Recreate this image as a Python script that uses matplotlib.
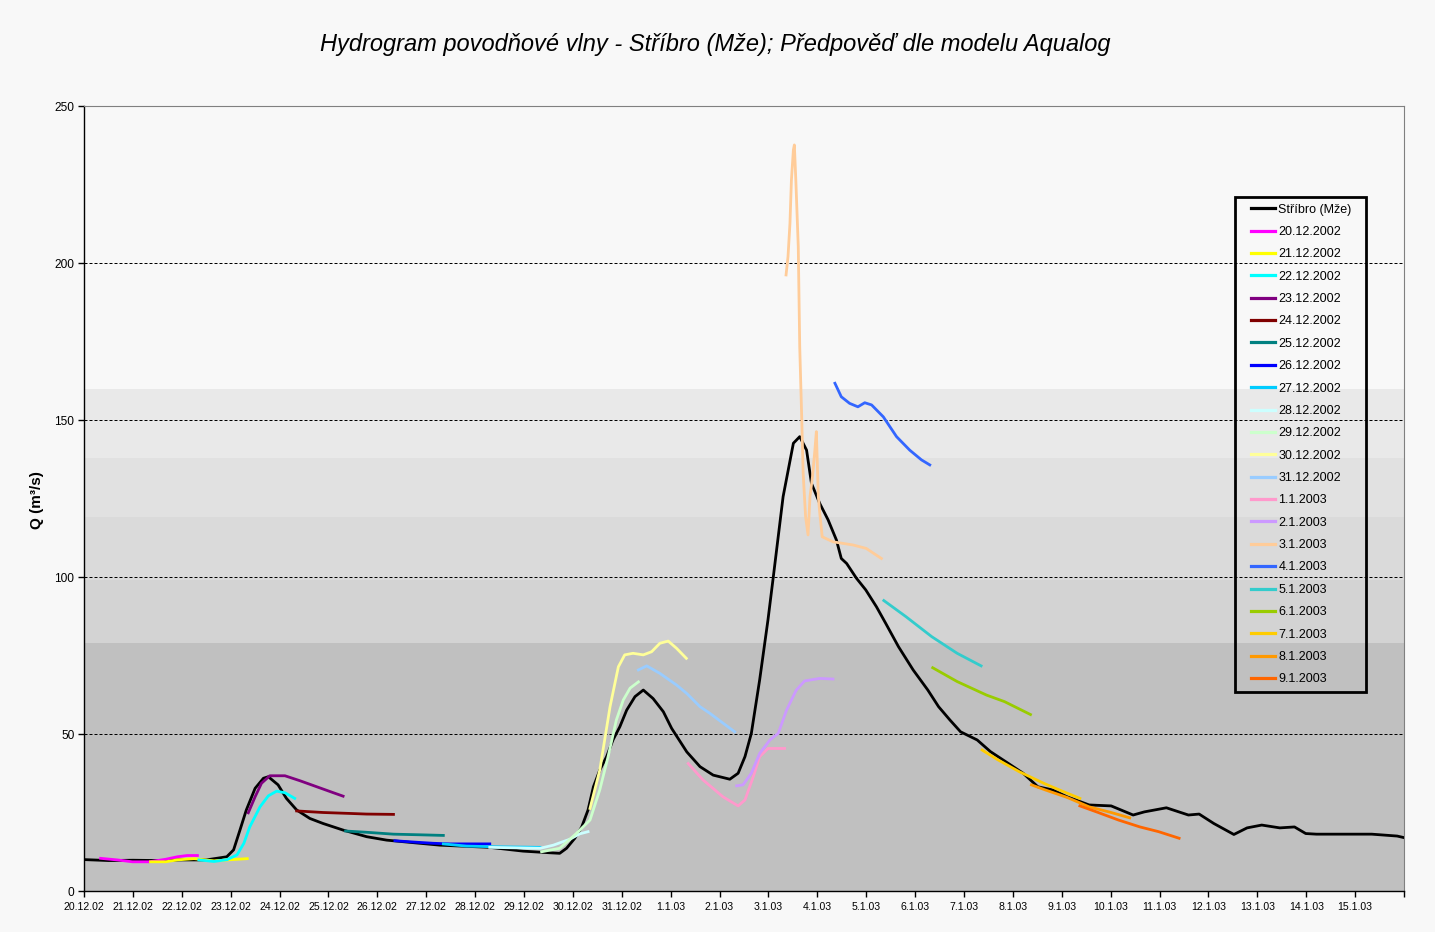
import numpy as np
import matplotlib
matplotlib.use('Agg')
import matplotlib.pyplot as plt
from matplotlib.patches import Rectangle

plt.rcParams['font.family'] = ['Liberation Sans', 'DejaVu Sans']

# ---------------- data ----------------
x_tick_labels = ['20.12.02', '21.12.02', '22.12.02', '23.12.02', '24.12.02', '25.12.02',
                 '26.12.02', '27.12.02', '28.12.02', '29.12.02', '30.12.02', '31.12.02',
                 '1.1.03', '2.1.03', '3.1.03', '4.1.03', '5.1.03', '6.1.03', '7.1.03',
                 '8.1.03', '9.1.03', '10.1.03', '11.1.03', '12.1.03', '13.1.03', '14.1.03',
                 '15.1.03', '']

# flood levels (shaded bands) and their shades
band_levels = [0, 79, 99, 119, 138, 160]
band_colors = ['#C0C0C0', '#D3D3D3', '#DADADA', '#E1E1E1', '#E9E9E9']

# observed discharge (days since 20.12.2002 00:00)
obs_t = [0, 0.5, 1.0, 1.5, 2.0, 2.5, 2.92, 3.06, 3.19, 3.32, 3.50, 3.67, 3.77, 3.97, 4.14,
         4.35, 4.62, 4.89, 5.30, 5.78, 6.19, 6.73, 7.28, 8.30, 8.98, 9.50, 9.73, 9.87, 10.04,
         10.18, 10.31, 10.42, 10.55, 10.69, 10.82, 10.96, 11.10, 11.27, 11.44, 11.64, 11.85,
         12.02, 12.33, 12.60, 12.87, 13.21, 13.38, 13.52, 13.65, 13.82, 13.99, 14.10, 14.30,
         14.51, 14.64, 14.78, 14.88, 15.05, 15.22, 15.39, 15.49, 15.60, 15.80, 15.99, 16.21,
         16.40, 16.66, 16.96, 17.26, 17.48, 17.71, 17.93, 18.27, 18.54, 18.91, 19.21, 19.51,
         19.81, 20.11, 20.56, 21.01, 21.46, 21.69, 22.14, 22.59, 22.81, 23.11, 23.52, 23.79,
         24.09, 24.46, 24.76, 24.99, 25.21, 26.34, 26.86, 27.0]
obs_q = [10, 9.7, 9.8, 9.7, 9.9, 9.9, 10.9, 13.1, 19.4, 25.8, 32.7, 35.9, 36.4, 33.8, 29.5,
         25.8, 23.1, 21.5, 19.4, 17.3, 16.2, 15.4, 14.6, 13.9, 12.7, 12.2, 12.0, 13.6, 16.8,
         20.4, 25.8, 33.2, 38.5, 42.8, 48.1, 52.3, 57.6, 61.9, 64.0, 61.3, 57.1,
         51.8, 44.3, 39.6, 36.9, 35.6, 37.5, 42.8, 50.2, 67.2, 86.3, 100.1, 125.6,
         142.6, 144.7, 140.4, 129.8, 123.4, 118.2, 111.8, 105.9, 104.3, 99.6, 95.9, 90.5,
         85.2, 77.8, 70.4, 64.0, 58.7, 54.5, 50.7, 48.1, 44.4, 40.6, 37.5, 33.2,
         32.2, 30.0, 27.4, 27.1, 24.2, 25.2, 26.5, 24.2, 24.5, 21.5, 18.0, 20.1,
         21.0, 20.1, 20.4, 18.3, 18.1, 18.1, 17.5, 17.0]

# forecasts (Aqualog), each issued on the given day
fc_20_12_t = [0.34, 0.68, 0.99, 1.33, 1.67, 1.91, 2.11, 2.32]
fc_20_12_q = [10.4, 9.9, 9.3, 9.3, 10.1, 10.9, 11.3, 11.3]
fc_21_12_t = [1.36, 1.67, 1.91, 2.25, 2.66, 2.93, 3.34]
fc_21_12_q = [9.3, 9.3, 9.9, 10.3, 9.6, 9.9, 10.3]
fc_22_12_t = [2.35, 2.66, 2.93, 3.13, 3.27, 3.39, 3.60, 3.77, 3.94, 4.11, 4.31]
fc_22_12_q = [9.9, 9.4, 10.0, 11.5, 15.2, 20.4, 26.8, 30.3, 31.8, 31.3, 29.5]
fc_23_12_t = [3.36, 3.50, 3.63, 3.80, 4.11, 4.42, 4.76, 5.10, 5.30]
fc_23_12_q = [24.9, 30.0, 34.3, 36.7, 36.7, 35.1, 33.2, 31.3, 30.2]
fc_24_12_t = [4.35, 4.89, 5.44, 5.78, 6.33]
fc_24_12_q = [25.5, 25.0, 24.7, 24.5, 24.4]
fc_25_12_t = [5.35, 5.78, 6.33, 6.87, 7.35]
fc_25_12_q = [19.1, 18.7, 18.1, 17.9, 17.7]
fc_26_12_t = [6.36, 6.73, 7.14, 7.48, 8.30]
fc_26_12_q = [16.0, 15.6, 15.2, 15.0, 15.0]
fc_27_12_t = [7.35, 7.82, 8.37, 9.33]
fc_27_12_q = [15.0, 14.3, 14.1, 13.9]
fc_28_12_t = [8.30, 9.33, 9.60, 9.94, 10.14, 10.31]
fc_28_12_q = [13.9, 13.6, 14.6, 16.5, 18.2, 18.9]
fc_29_12_t = [9.36, 9.73, 10.07, 10.35, 10.55, 10.72, 10.89, 11.03, 11.17, 11.34]
fc_29_12_q = [12.5, 13.6, 18.3, 22.6, 32.2, 42.8, 54.5, 60.8, 64.6, 66.6]
fc_30_12_t = [10.35, 10.55, 10.76, 10.93, 11.06, 11.23, 11.44, 11.61, 11.78, 11.95, 12.12, 12.32]
fc_30_12_q = [26.3, 38.5, 58.7, 71.4, 75.2, 75.7, 75.2, 76.2, 78.9, 79.6, 77.3, 74.1]
fc_31_12_t = [11.34, 11.51, 11.78, 12.12, 12.33, 12.60, 12.80, 13.31]
fc_31_12_q = [70.4, 71.7, 69.3, 65.6, 62.9, 58.7, 56.6, 50.7]
fc_01_01_t = [12.36, 12.66, 13.07, 13.38, 13.52, 13.69, 13.82, 13.99, 14.33]
fc_01_01_q = [40.6, 35.4, 30.0, 27.1, 29.0, 36.4, 42.8, 45.4, 45.4]
fc_02_01_t = [13.35, 13.48, 13.65, 13.82, 14.03, 14.20, 14.37, 14.57, 14.74, 15.05, 15.32]
fc_02_01_q = [33.5, 33.8, 37.5, 43.8, 48.1, 50.2, 57.6, 64.0, 66.9, 67.7, 67.5]
fc_03_01_t = [14.36, 14.40, 14.44, 14.47, 14.51, 14.53, 14.56, 14.61, 14.64, 14.68, 14.71,
              14.76, 14.81, 14.85, 14.90, 14.95, 14.98, 15.02, 15.05, 15.10, 15.32, 15.73,
              16.00, 16.31]
fc_03_01_q = [196.2, 202.0, 212.6, 226.4, 236.0, 237.6, 226.4, 205.2, 173.3, 151.0, 133.0,
              119.2, 113.4, 125.6, 131.9, 140.4, 146.3, 125.6, 120.3, 112.8, 111.2, 110.2,
              109.1, 105.9]
fc_04_01_t = [15.36, 15.49, 15.66, 15.83, 15.97, 16.11, 16.35, 16.62, 16.89, 17.13, 17.30]
fc_04_01_q = [161.7, 157.4, 155.3, 154.2, 155.5, 154.8, 151.0, 144.7, 140.4, 137.3, 135.7]
fc_05_01_t = [16.36, 16.81, 17.34, 17.86, 18.35]
fc_05_01_q = [92.5, 87.4, 81.0, 75.7, 71.7]
fc_06_01_t = [17.36, 17.86, 18.46, 18.83, 19.36]
fc_06_01_q = [71.1, 66.7, 62.4, 60.3, 56.2]
fc_07_01_t = [18.37, 18.68, 19.13, 19.66, 20.04, 20.37]
fc_07_01_q = [44.9, 41.9, 38.0, 34.1, 31.6, 29.5]
fc_08_01_t = [19.38, 19.66, 20.11, 20.56, 21.01, 21.39]
fc_08_01_q = [33.8, 32.2, 29.8, 26.8, 25.0, 23.3]
fc_09_01_t = [20.37, 20.71, 21.16, 21.60, 21.98, 22.40]
fc_09_01_q = [27.1, 25.2, 22.6, 20.4, 18.9, 16.8]

forecast_labels = ['20.12.2002', '21.12.2002', '22.12.2002', '23.12.2002', '24.12.2002',
                   '25.12.2002', '26.12.2002', '27.12.2002', '28.12.2002', '29.12.2002',
                   '30.12.2002', '31.12.2002', '1.1.2003', '2.1.2003', '3.1.2003',
                   '4.1.2003', '5.1.2003', '6.1.2003', '7.1.2003', '8.1.2003', '9.1.2003']
forecast_colors = ['#FF00FF', '#FFFF00', '#00FFFF', '#800080', '#800000', '#008080',
                   '#0000FF', '#00CCFF', '#CCFFFF', '#CCFFCC', '#FFFF99', '#99CCFF',
                   '#FF99CC', '#CC99FF', '#FFCC99', '#3366FF', '#33CCCC', '#99CC00',
                   '#FFCC00', '#FF9900', '#FF6600']
forecast_series = [
    (fc_20_12_t, fc_20_12_q), (fc_21_12_t, fc_21_12_q), (fc_22_12_t, fc_22_12_q),
    (fc_23_12_t, fc_23_12_q), (fc_24_12_t, fc_24_12_q), (fc_25_12_t, fc_25_12_q),
    (fc_26_12_t, fc_26_12_q), (fc_27_12_t, fc_27_12_q), (fc_28_12_t, fc_28_12_q),
    (fc_29_12_t, fc_29_12_q), (fc_30_12_t, fc_30_12_q), (fc_31_12_t, fc_31_12_q),
    (fc_01_01_t, fc_01_01_q), (fc_02_01_t, fc_02_01_q), (fc_03_01_t, fc_03_01_q),
    (fc_04_01_t, fc_04_01_q), (fc_05_01_t, fc_05_01_q), (fc_06_01_t, fc_06_01_q),
    (fc_07_01_t, fc_07_01_q), (fc_08_01_t, fc_08_01_q), (fc_09_01_t, fc_09_01_q)]

# ---------------- figure ----------------
W, H = 1435, 932
fig = plt.figure(figsize=(W / 100, H / 100), dpi=100, facecolor='#F8F8F8')
ax = fig.add_axes([84 / W, 1 - 891 / H, (1404 - 84) / W, (891 - 106) / H])
ax.set_facecolor('#F8F8F8')

ax.set_xlim(0, 27)
ax.set_ylim(0, 250)

for lo, hi, c in zip(band_levels[:-1], band_levels[1:], band_colors):
    ax.axhspan(lo, hi, color=c, lw=0, zorder=0)

for yv in [50, 100, 150, 200]:
    ax.axhline(yv, color='black', lw=0.72, ls=(0, (3, 2)), zorder=1)

lw = 2.0
ax.plot(obs_t, obs_q, color='black', lw=lw, label='Stříbro (Mže)', zorder=3,
        solid_joinstyle='round')
for (t, q), c, lab in zip(forecast_series, forecast_colors, forecast_labels):
    ax.plot(t, q, color=c, lw=lw, label=lab, zorder=4, solid_joinstyle='round')

ax.set_xticks(np.arange(len(x_tick_labels)))
ax.set_xticklabels(x_tick_labels, fontsize=7.6)
ax.set_yticks([0, 50, 100, 150, 200, 250])
ax.tick_params(axis='both', direction='out', length=4, width=1, color='black', pad=3)
ax.tick_params(axis='y', labelsize=8.6)
ax.tick_params(axis='x', pad=4)

for s in ['left', 'bottom']:
    ax.spines[s].set_color('black')
    ax.spines[s].set_linewidth(1.0)
for s in ['top', 'right']:
    ax.spines[s].set_color('#808080')
    ax.spines[s].set_linewidth(0.8)

ax.set_ylabel('Q (m³/s)', fontsize=11, fontweight='bold')
ax.yaxis.set_label_coords((37 - 84) / (1404 - 84), (891 - 500) / (891 - 106))
ax.yaxis.label.set_va('center')

fig.text(715 / W, 1 - 45 / H, 'Hydrogram povodňové vlny - Stříbro (Mže); Předpověď dle modelu Aqualog',
         ha='center', va='center', fontsize=17, style='italic')

# legend frame drawn as a rectangle, entries placed inside
frame = Rectangle((1235 / W, 1 - 692 / H), (1366 - 1235) / W, (692 - 197) / H,
                  transform=fig.transFigure, facecolor='none', edgecolor='black',
                  lw=2, zorder=10)
fig.add_artist(frame)

leg = ax.legend(loc='upper left', bbox_to_anchor=(1251 / W, 1 - 203.5 / H),
                bbox_transform=fig.transFigure, frameon=False,
                fontsize=9, handlelength=1.95, handletextpad=0.25, labelspacing=0.83,
                borderpad=0, borderaxespad=0)
for h in leg.get_lines():
    h.set_linewidth(2.3)

fig.savefig('out.png', dpi=100, facecolor=fig.get_facecolor())
